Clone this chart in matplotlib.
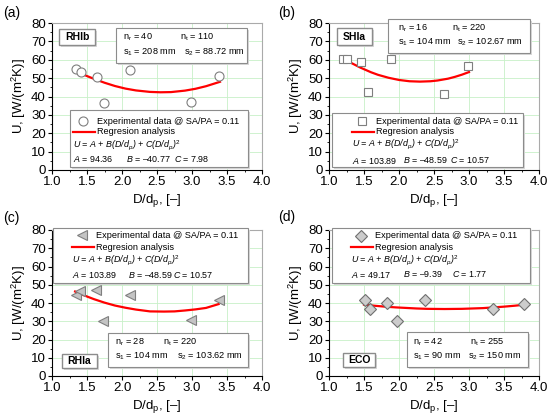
import matplotlib
matplotlib.use("Agg")
import matplotlib.pyplot as plt
import matplotlib.transforms as mtransforms
from matplotlib.patches import Rectangle
from matplotlib.lines import Line2D
from matplotlib.ticker import MultipleLocator, FormatStrFormatter

plt.rcParams["font.family"] = ["Liberation Sans", "DejaVu Sans"]
plt.rcParams["mathtext.fontset"] = "custom"
plt.rcParams["mathtext.rm"] = "Liberation Sans"
plt.rcParams["mathtext.it"] = "Liberation Sans:italic"
plt.rcParams["mathtext.bf"] = "Liberation Sans:bold"

# measured points, D/d_p and U
x_a = [1.34, 1.41, 1.64, 1.74, 2.11, 2.98, 3.38]
u_a = [54.8, 53.3, 50.8, 36.3, 54.3, 36.8, 51.0]
x_b = [1.20, 1.26, 1.46, 1.55, 1.88, 2.64, 2.99]
u_b = [60.6, 60.2, 58.8, 42.6, 60.4, 41.2, 56.8]
x_c = [1.34, 1.40, 1.63, 1.73, 2.11, 2.98, 3.38]
u_c = [44.4, 46.6, 47.0, 30.0, 44.6, 30.9, 41.5]
x_d = [1.51, 1.59, 1.83, 1.97, 2.37, 3.34, 3.78]
u_d = [41.8, 36.7, 39.8, 30.0, 41.5, 36.5, 39.3]

# regression curves
fit_x_a = [1.33, 1.45, 1.6, 1.75, 1.9, 2.05, 2.2, 2.4, 2.55, 2.7, 2.9, 3.05, 3.2, 3.4]
fit_u_a = [54.3, 51.9, 49.6, 47.5, 45.7, 44.3, 43.3, 42.5, 42.3, 42.4, 43.2, 44.2, 45.6, 48.0]
fit_x_b = [1.2, 1.3, 1.45, 1.6, 1.7, 1.85, 2.0, 2.15, 2.3, 2.45, 2.55, 2.7, 2.8, 2.9, 3.0]
fit_u_b = [60.8, 58.6, 55.7, 53.2, 51.8, 50.2, 49.0, 48.3, 48.1, 48.3, 48.7, 49.7, 50.7, 51.9, 53.3]
fit_x_c = [1.33, 1.45, 1.6, 1.75, 1.9, 2.05, 2.2, 2.4, 2.6, 2.75, 2.9, 3.05, 3.2, 3.38]
fit_u_c = [46.3, 44.3, 42.1, 40.2, 38.6, 37.4, 36.4, 35.4, 35.3, 35.4, 35.9, 36.5, 37.3, 39.4]
fit_x_d = [1.5, 1.65, 1.8, 1.95, 2.1, 2.25, 2.4, 2.65, 2.9, 3.05, 3.2, 3.35, 3.5, 3.65, 3.8]
fit_u_d = [39.1, 38.5, 38.0, 37.6, 37.3, 37.0, 36.8, 36.7, 36.8, 37.0, 37.2, 37.6, 38.0, 38.5, 39.1]

names = ["RHIb", "SHIa", "RHIa", "ECO"]
panel_tags = ["(a)", "(b)", "(c)", "(d)"]
coef_a = ["94.36", "103.89", "103.89", "49.17"]
coef_b = ["–40.77", "–48.59", "–48.59", "–9.39"]
coef_c = ["7.98", "10.57", "10.57", "1.77"]
n_r = ["40", "16", "28", "42"]
n_t = ["110", "220", "220", "255"]
s_1 = ["208", "104", "104", "90"]
s_2 = ["88.72", "102.67", "103.62", "150"]

fig = plt.figure(figsize=(5.5, 4.2), dpi=100)
px = mtransforms.Affine2D().scale(1 / 550, -1 / 420).translate(0, 1) + fig.transFigure

# axes frame in image pixels: left, right, top, bottom
frames = [(52, 262, 23, 170), (329, 539, 23, 170), (52, 262, 230, 376), (329, 539, 230, 376)]
styles = [
    dict(marker="o", ms=6.5, mfc="white", mec="#7f7f7f", mew=0.8),
    dict(marker="s", ms=6, mfc="white", mec="#7f7f7f", mew=0.8),
    dict(marker="<", ms=7, mfc="#c4c4c4", mec="#7f7f7f", mew=0.8),
    dict(marker="D", ms=5.8, mfc="#cccccc", mec="#6f6f6f", mew=0.8),
]
data = [(x_a, u_a, fit_x_a, fit_u_a), (x_b, u_b, fit_x_b, fit_u_b),
        (x_c, u_c, fit_x_c, fit_u_c), (x_d, u_d, fit_x_d, fit_u_d)]

# legend box (x0, x1, y0, y1), content x start, row y's, offsets of B and C
legends = [
    ((70, 248, 110, 167), 73, (121, 132, 145, 159), (53, 101)),
    ((332, 523, 113, 167), 352, (121, 132, 144, 160), (51, 98)),
    ((53, 248, 228, 283), 72, (235, 247, 260, 275), (56, 101)),
    ((332, 530, 228, 283), 351, (236, 247, 260, 274), (52, 101)),
]
# params box, rows, columns (n, n_t, s_2)
params = [
    ((116, 247, 28, 63), (37, 52), (123, 180, 184)),
    ((388, 530, 19, 53), (28, 42), (398, 452, 457)),
    ((108, 248, 333, 367), (342, 356), (115, 163, 177)),
    ((407, 528, 332, 367), (342, 356), (413, 470, 468)),
]
name_boxes = [(59, 95, 29, 45), (337, 372, 28, 45), (62, 97, 354, 368), (343, 375, 353, 367)]
tag_pos = [(3, 13), (278, 13), (3, 218), (278, 217)]


def add_box(x0, x1, y0, y1, lw=0.8):
    fig.add_artist(Rectangle((x0 + 1.5, y0 + 1.5), x1 - x0, y1 - y0, transform=px,
                             facecolor="#d8d8d8", edgecolor="none", zorder=4))
    fig.add_artist(Rectangle((x0, y0), x1 - x0, y1 - y0, transform=px,
                             facecolor="white", edgecolor="#8c8c8c", lw=lw, zorder=5))


for i in range(4):
    l, r, t, b = frames[i]
    ax = fig.add_axes([l / 550, 1 - b / 420, (r - l) / 550, (b - t) / 420])
    xs, us, fx, fu = data[i]
    ax.grid(True, color="#c8f0c8", lw=0.6)
    ax.set_axisbelow(True)
    ax.plot(fx, fu, color="red", lw=1.6, zorder=3)
    ax.plot(xs, us, ls="none", zorder=4, **styles[i])
    ax.set_xlim(1.0, 4.0)
    ax.set_ylim(0, 80)
    ax.xaxis.set_major_locator(MultipleLocator(0.5))
    ax.xaxis.set_minor_locator(MultipleLocator(0.25))
    ax.yaxis.set_major_locator(MultipleLocator(10))
    ax.yaxis.set_minor_locator(MultipleLocator(5))
    ax.xaxis.set_major_formatter(FormatStrFormatter("%.1f"))
    ax.tick_params(which="major", direction="out", length=3, width=0.8, labelsize=9.5, pad=1.5)
    ax.tick_params(which="minor", direction="out", length=1.5, width=0.6)
    for s in ["top", "right"]:
        ax.spines[s].set_color("#aaaaaa")
    ax.set_xlabel("D/d$_\\mathregular{p}$, [–]", fontsize=9.5, labelpad=3)
    ax.set_ylabel("U, [W/(m$^\\mathregular{2}$K)]", fontsize=9.5, labelpad=2)

    fig.text(tag_pos[i][0], tag_pos[i][1], panel_tags[i], transform=px,
             fontsize=10, va="center", ha="left")

    # legend
    (x0, x1, y0, y1), c0, rows, offs = legends[i]
    add_box(x0, x1, y0, y1)
    fig.add_artist(Line2D([c0 + 10], [rows[0]], transform=px, ls="none", zorder=6, **styles[i]))
    fig.text(c0 + 24, rows[0], "Experimental data @ SA/PA = 0.11", transform=px,
             fontsize=6.6, va="center", zorder=6)
    fig.add_artist(Line2D([c0, c0 + 22], [rows[1], rows[1]], transform=px,
                          color="red", lw=1.6, zorder=6))
    fig.text(c0 + 24, rows[1], "Regresion analysis", transform=px,
             fontsize=6.6, va="center", zorder=6)
    fig.text(c0, rows[2], "U = A + B(D/d$_{p}$) + C(D/d$_{p}$)$^{2}$", transform=px,
             fontsize=6.4, va="center", style="italic", zorder=6)
    fig.text(c0, rows[3], "$A$ = " + coef_a[i], transform=px, fontsize=6.4, va="center", zorder=6)
    fig.text(c0 + offs[0], rows[3], "$B$ = " + coef_b[i], transform=px, fontsize=6.4, va="center", zorder=6)
    fig.text(c0 + offs[1], rows[3], "$C$ = " + coef_c[i], transform=px, fontsize=6.4, va="center", zorder=6)

    # geometry parameters
    (x0, x1, y0, y1), (r1, r2), (k1, k2, k3) = params[i]
    add_box(x0, x1, y0, y1)
    fig.text(k1, r1, "n$_\\mathregular{r}$ = " + n_r[i], transform=px, fontsize=6.6, va="center", zorder=6)
    fig.text(k2, r1, "n$_\\mathregular{t}$ = " + n_t[i], transform=px, fontsize=6.6, va="center", zorder=6)
    fig.text(k1, r2, "s$_\\mathregular{1}$ = " + s_1[i] + " mm", transform=px, fontsize=6.6, va="center", zorder=6)
    fig.text(k3, r2, "s$_\\mathregular{2}$ = " + s_2[i] + " mm", transform=px, fontsize=6.6, va="center", zorder=6)

    # tube bank name
    x0, x1, y0, y1 = name_boxes[i]
    add_box(x0, x1, y0, y1, lw=1.0)
    fig.text((x0 + x1) / 2, (y0 + y1) / 2, names[i], transform=px, fontsize=7.5,
             weight="bold", ha="center", va="center", zorder=6)

fig.savefig("out.png", dpi=100)
